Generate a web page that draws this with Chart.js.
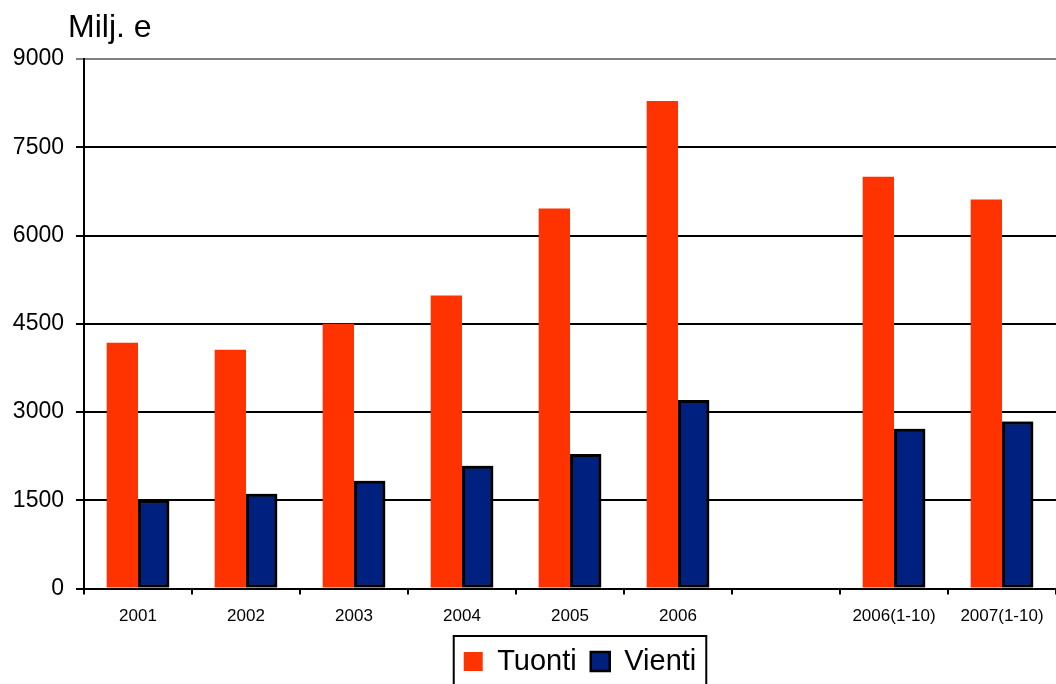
<!DOCTYPE html>
<html>
<head>
<meta charset="utf-8">
<script src="https://cdn.jsdelivr.net/npm/chart.js@4.4.0/dist/chart.umd.min.js"></script>
<style>
html,body{margin:0;padding:0;background:#fff;}
#wrap{width:1056px;height:684px;}
</style>
</head>
<body>
<div id="wrap"><canvas id="c" width="1056" height="684"></canvas></div>
<script>
const categories = ['2001','2002','2003','2004','2005','2006','','2006(1-10)','2007(1-10)'];
const tuonti = [4175, 4060, 4500, 4980, 6460, 8285, null, 7000, 6610];
const vienti = [1500, 1610, 1830, 2085, 2285, 3205, null, 2715, 2840];
const yTicks = [0, 1500, 3000, 4500, 6000, 7500, 9000];
const unitLabel = 'Milj. e';

const FONT = '"Liberation Sans", Arial, sans-serif';

const extras = {
  id: 'extras',
  afterLayout(chart) {
    const lg = chart.legend;
    if (lg) { lg.left += 10; lg.right += 10; }
  },
  afterDatasetsDraw(chart) {
    const meta = chart.getDatasetMeta(1);
    const ctx = chart.ctx;
    ctx.save();
    meta.controller.draw();
    ctx.restore();
  },
  afterDraw(chart) {
    const ctx = chart.ctx;
    ctx.save();
    ctx.fillStyle = '#000';
    ctx.font = '32px ' + FONT;
    ctx.textAlign = 'left';
    ctx.textBaseline = 'alphabetic';
    ctx.fillText(unitLabel, chart.chartArea.left - 16, 37);
    const lg = chart.legend;
    if (lg && lg.legendHitBoxes && lg.legendHitBoxes.length) {
      const boxes = lg.legendHitBoxes;
      let l = Infinity, r = -Infinity;
      boxes.forEach(b => { l = Math.min(l, b.left); r = Math.max(r, b.left + b.width); });
      ctx.strokeStyle = '#000';
      ctx.lineWidth = 2;
      ctx.strokeRect(l - 10, 636, (r - l) + 20, 80);
    }
    ctx.restore();
  }
};

new Chart(document.getElementById('c'), {
  type: 'bar',
  data: {
    labels: categories,
    datasets: [
      { label: 'Tuonti', data: tuonti, backgroundColor: '#ff3300', borderWidth: 0,
        categoryPercentage: 0.58, barPercentage: 1.0 },
      { label: 'Vienti', data: vienti, backgroundColor: '#00207f', borderColor: '#000', borderWidth: 3,
        borderSkipped: false, categoryPercentage: 0.58, barPercentage: 1.0 }
    ]
  },
  options: {
    responsive: false,
    animation: false,
    devicePixelRatio: 1,
    layout: { padding: { top: 59, right: 0, bottom: -2, left: 0 } },
    plugins: {
      tooltip: { enabled: false },
      title: { display: false },
      legend: {
        display: true,
        position: 'bottom',
        fullSize: false,
        labels: {
          color: '#000',
          font: { family: FONT, size: 29 },
          boxWidth: 19,
          boxHeight: 19,
          padding: 14,
          generateLabels(chart) {
            return chart.data.datasets.map((ds, i) => ({
              text: ds.label,
              fillStyle: ds.backgroundColor,
              strokeStyle: i === 1 ? '#000' : ds.backgroundColor,
              lineWidth: i === 1 ? 2.5 : 0,
              hidden: false,
              datasetIndex: i,
              fontColor: '#000'
            }));
          }
        }
      }
    },
    scales: {
      x: {
        offset: true,
        grid: { display: true, offset: true, drawOnChartArea: false, drawTicks: true, tickLength: 6, color: '#000', lineWidth: 2 },
        border: { display: true, color: '#000', width: 2 },
        ticks: { color: '#000', font: { family: FONT, size: 17 }, padding: 12, maxRotation: 0, autoSkip: false },
        afterFit(scale) { scale.height = 44.5; }
      },
      y: {
        min: 0, max: 9000,
        afterBuildTicks(scale) { scale.ticks = yTicks.map(v => ({ value: v })); },
        grid: {
          color: ctx => (ctx.tick && ctx.tick.value === 9000) ? '#808080' : '#000',
          lineWidth: 2, tickLength: 8, drawTicks: true
        },
        border: { display: true, color: '#000', width: 2 },
        ticks: { color: '#000', font: { family: FONT, size: 23 }, padding: 12,
                 callback: v => String(v) },
        afterFit(scale) { scale.width = 84; }
      }
    }
  },
  plugins: [extras]
});
</script>
</body>
</html>
